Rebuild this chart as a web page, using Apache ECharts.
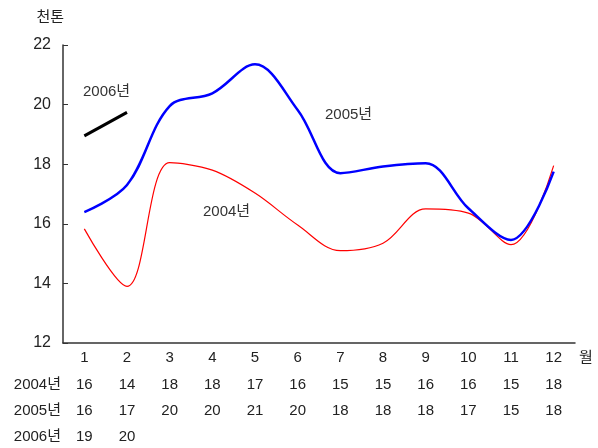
<!DOCTYPE html>
<html>
<head>
<meta charset="utf-8">
<script src="https://cdn.jsdelivr.net/npm/echarts@6/dist/echarts.min.js"></script>
<style>
html,body{margin:0;padding:0;background:#fff;}
#chart{width:598px;height:448px;}
</style>
</head>
<body>
<div id="chart"></div>
<script>
var months = ['1','2','3','4','5','6','7','8','9','10','11','12'];
var s2004 = [15.83, 13.9, 18.05, 17.8, 17.03, 15.96, 15.1, 15.35, 16.5, 16.36, 15.3, 17.95];
var s2005 = [16.39, 17.3, 19.95, 20.38, 21.35, 19.82, 17.7, 17.92, 18.03, 16.52, 15.46, 17.75];
var s2006 = [18.95, 19.74];
var table2004 = ['16','14','18','18','17','16','15','15','16','16','15','18'];
var table2005 = ['16','17','20','20','21','20','18','18','18','17','15','18'];
var table2006 = ['19','20','','','','','','','','','',''];
var yTicks = {min: 12, max: 22, interval: 2};

var FONT = 'Liberation Sans, Noto Sans CJK KR, sans-serif';
var TXT = '#222';

function rowAxis(data, name, offset, nameLoc) {
  return {
    type: 'category', gridIndex: 0, position: 'bottom', offset: offset,
    data: data, boundaryGap: true,
    axisLine: {show: false}, axisTick: {show: false},
    axisLabel: {margin: 0, verticalAlign: 'middle', fontSize: 15, color: TXT, fontFamily: FONT, interval: 0},
    name: name, nameLocation: nameLoc || 'start', nameGap: nameLoc === 'end' ? 4 : 2,
    nameTextStyle: {fontSize: 15, color: TXT, fontFamily: FONT, verticalAlign: 'middle'}
  };
}

var chart = echarts.init(document.getElementById('chart'), null, {renderer: 'canvas'});
chart.setOption({
  animation: false,
  backgroundColor: '#fff',
  grid: {left: 63, right: 23, top: 45, bottom: 105},
  xAxis: [
    {
      type: 'category', data: months, boundaryGap: true,
      axisLine: {show: true, lineStyle: {color: '#333', width: 1.5}},
      axisTick: {show: false},
      axisLabel: {show: false}
    },
    rowAxis(months, '월', 15, 'end'),
    rowAxis(table2004, '2004년', 42),
    rowAxis(table2005, '2005년', 68),
    rowAxis(table2006, '2006년', 94)
  ],
  yAxis: {
    type: 'value', min: yTicks.min, max: yTicks.max, interval: yTicks.interval,
    axisLine: {show: true, lineStyle: {color: '#333', width: 1.5}},
    axisTick: {show: true, inside: true, length: 5, lineStyle: {color: '#333'}},
    splitLine: {show: false},
    axisLabel: {fontSize: 16, color: TXT, fontFamily: FONT, margin: 12},
    name: '천톤', nameLocation: 'end', nameGap: 20,
    nameTextStyle: {fontSize: 15, color: TXT, fontFamily: FONT, align: 'right', padding: [0, -1, 0, 0]}
  },
  series: [
    {name: '2004년', type: 'line', data: s2004, smooth: 0.35, symbol: 'none',
     lineStyle: {color: '#ff0000', width: 1.2}},
    {name: '2005년', type: 'line', data: s2005, smooth: 0.35, symbol: 'none',
     lineStyle: {color: '#0000ff', width: 2.5}},
    {name: '2006년', type: 'line', data: s2006, smooth: false, symbol: 'none',
     lineStyle: {color: '#000000', width: 3}}
  ],
  graphic: [
    {type: 'text', left: 83, top: 84, style: {text: '2006년', fill: '#333', font: '15px ' + FONT}},
    {type: 'text', left: 325, top: 107, style: {text: '2005년', fill: '#333', font: '15px ' + FONT}},
    {type: 'text', left: 203, top: 204, style: {text: '2004년', fill: '#333', font: '15px ' + FONT}}
  ]
});
</script>
</body>
</html>
